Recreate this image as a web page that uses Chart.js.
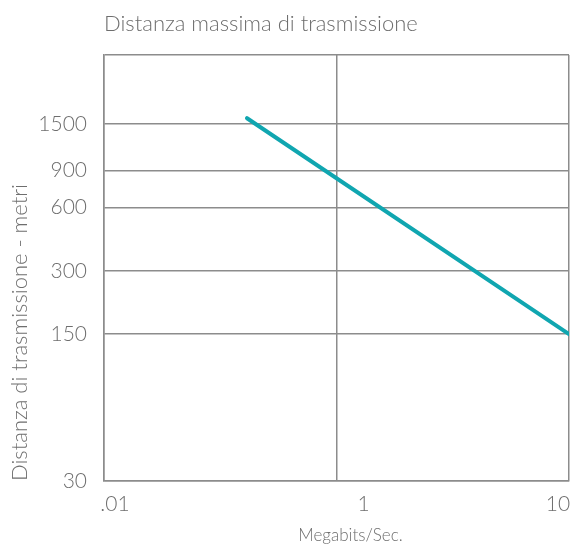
<!DOCTYPE html>
<html>
<head>
<meta charset="utf-8">
<script src="https://cdn.jsdelivr.net/npm/chart.js@4/dist/chart.umd.min.js"></script>
<style>
  body { margin: 0; background: #fff; }
  #wrap { width: 570px; height: 544px; }
</style>
</head>
<body>
<div id="wrap"><canvas id="chart"></canvas></div>
<script>
// transfer rate (Megabits/Sec.) against maximum cable distance (metres)
const rateTicks = [0.01, 1, 10];
const rateLabels = ['.01', '1', '10'];
const distTicks = [30, 150, 300, 600, 900, 1500];
const rates = [0.17, 10];
const distances = [1600, 150];

const textColor = '#6e6e6e';
const gridColor = '#8c8c8c';
const fontFamily = 'Lato, "Open Sans", sans-serif';
const yMax = 3200;

// the rate axis is evenly spaced per tick, log inside each gap
function ratePos(r) {
  for (let i = 0; i < rateTicks.length - 1; i++) {
    if (r <= rateTicks[i + 1]) {
      return i + Math.log(r / rateTicks[i]) / Math.log(rateTicks[i + 1] / rateTicks[i]);
    }
  }
  return rateTicks.length - 1;
}

// tick labels and title under the x axis sit a little off the grid lines
const xLabelNudge = [11, 27, -11];
const xTitleNudge = 14;

const xLabelsPlugin = {
  id: 'xLabels',
  afterDraw(chart) {
    const { ctx } = chart;
    const x = chart.scales.x;
    ctx.save();
    ctx.fillStyle = textColor;
    ctx.textAlign = 'center';
    ctx.textBaseline = 'middle';
    ctx.font = '300 21px ' + fontFamily;
    rateLabels.forEach((label, i) => {
      ctx.fillText(label, x.getPixelForValue(i) + xLabelNudge[i], x.top + 23);
    });
    ctx.font = '300 17px ' + fontFamily;
    ctx.fillText('Megabits/Sec.', (x.left + x.right) / 2 + xTitleNudge, x.top + 55);
    ctx.restore();
  }
};

new Chart(document.getElementById('chart'), {
  type: 'line',
  data: {
    datasets: [{
      data: rates.map((r, i) => ({ x: ratePos(r), y: distances[i] })),
      borderColor: '#10a6b0',
      borderWidth: 4,
      borderCapStyle: 'round',
      pointRadius: 0,
      tension: 0
    }]
  },
  options: {
    responsive: true,
    maintainAspectRatio: false,
    animation: false,
    layout: { padding: { top: 0, right: 1, bottom: 0, left: 0 } },
    plugins: {
      legend: { display: false },
      tooltip: { enabled: false },
      title: {
        display: true,
        text: 'Distanza massima di trasmissione',
        align: 'start',
        fullSize: false,
        color: textColor,
        font: { family: fontFamily, size: 22, weight: 300 },
        padding: { top: 11, bottom: 17.6 }
      }
    },
    scales: {
      x: {
        type: 'linear',
        min: 0,
        max: rateTicks.length - 1,
        afterBuildTicks: (scale) => {
          scale.ticks = rateTicks.map((_, i) => ({ value: i }));
        },
        afterFit: (scale) => { scale.height = 63; },
        ticks: { display: false },
        grid: { color: gridColor, lineWidth: 1.5, drawTicks: false },
        border: { color: gridColor, width: 1.5 }
      },
      y: {
        type: 'logarithmic',
        min: distTicks[0],
        max: yMax,
        afterBuildTicks: (scale) => {
          scale.ticks = [...distTicks, yMax].map(v => ({ value: v }));
        },
        afterFit: (scale) => { scale.width = 104; },
        ticks: {
          color: textColor,
          font: { family: fontFamily, size: 21, weight: 300 },
          padding: 17,
          callback: (v) => distTicks.includes(v) ? String(v) : ''
        },
        grid: { color: gridColor, lineWidth: 1.5, drawTicks: false },
        border: { color: gridColor, width: 1.5 },
        title: {
          display: true,
          text: 'Distanza di trasmissione - metri',
          align: 'start',
          color: textColor,
          font: { family: fontFamily, size: 22, weight: 300 },
          padding: { top: 7, bottom: 0 }
        }
      }
    }
  },
  plugins: [xLabelsPlugin]
});
</script>
</body>
</html>
